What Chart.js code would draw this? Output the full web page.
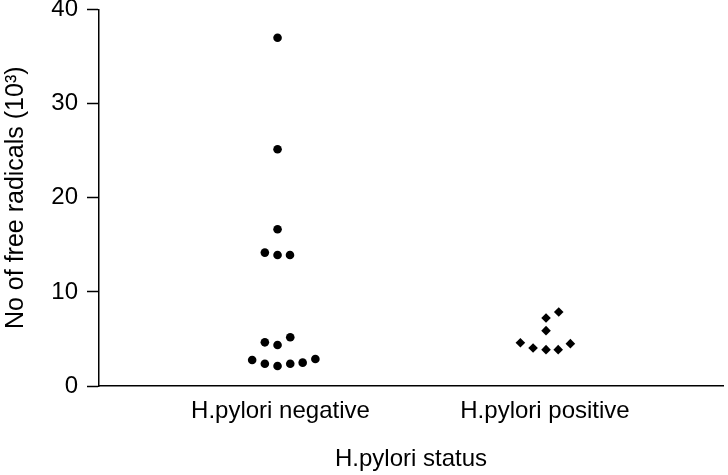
<!DOCTYPE html>
<html>
<head>
<meta charset="utf-8">
<script src="https://cdn.jsdelivr.net/npm/chart.js@4"></script>
<style>
  html, body { margin: 0; padding: 0; background: #fff; }
  #wrap { width: 728px; height: 475px; }
</style>
</head>
<body>
<div id="wrap"><canvas id="c" width="728" height="475"></canvas></div>
<script>
// values (y in 10^3 free radicals, x = group position + small spread)
const negX = [0.989, 0.989, 0.989, 0.941, 0.989, 1.036, 0.941, 0.989, 1.037, 0.893, 0.941, 0.989, 1.037, 1.084, 1.132];
const negY = [37.0, 25.15, 16.65, 14.17, 13.92, 13.92, 4.64, 4.36, 5.18, 2.76, 2.37, 2.13, 2.37, 2.48, 2.87];
const posX = [1.907, 1.955, 2.004, 2.050, 2.096, 2.004, 2.004, 2.052];
const posY = [4.60, 4.04, 3.86, 3.86, 4.50, 5.88, 7.23, 7.86];
const xTickPos = [1, 2];
const xTickLabels = ["H.pylori negative", "H.pylori positive"];
const yTicks = [0, 10, 20, 30, 40];

const font = { family: "'Liberation Sans', Arial, sans-serif", size: 24 };
const titleFont = { family: "'Liberation Sans', Arial, sans-serif", size: 25 };
const toPts = (xs, ys) => xs.map((x, i) => ({ x, y: ys[i] }));

new Chart(document.getElementById("c").getContext("2d"), {
  type: "scatter",
  data: {
    datasets: [
      { label: "negative", data: toPts(negX, negY), pointStyle: "circle", pointRadius: 4.3,
        backgroundColor: "#000", borderColor: "#000", borderWidth: 0 },
      { label: "positive", data: toPts(posX, posY), pointStyle: "rectRot", pointRadius: 4.8,
        backgroundColor: "#000", borderColor: "#000", borderWidth: 0 }
    ]
  },
  options: {
    responsive: false,
    animation: false,
    layout: { padding: { top: 9.5, right: 5, left: 0, bottom: 0 } },
    plugins: { legend: { display: false }, tooltip: { enabled: false } },
    scales: {
      x: {
        type: "linear", min: 0.314, max: 2.673,
        afterBuildTicks: s => { s.ticks = xTickPos.map(v => ({ value: v })); },
        afterFit: s => { s.height = 89; s.paddingLeft = 0; s.paddingRight = 0; },
        ticks: { color: "#000", font, padding: 11, maxRotation: 0, autoSkip: false,
          callback: (v) => xTickLabels[xTickPos.indexOf(v)] },
        grid: { display: false, drawTicks: false },
        border: { display: true, color: "#000", width: 1.5 },
        title: { display: true, text: "H.pylori status", color: "#000", font, padding: { top: 0, bottom: 1 } }
      },
      y: {
        min: 0, max: 40,
        afterBuildTicks: s => { s.ticks = yTicks.map(v => ({ value: v })); },
        afterFit: s => { s.width = 99; s.paddingTop = 0; s.paddingBottom = 0; },
        ticks: { color: "#000", font, padding: 9 },
        grid: { drawOnChartArea: false, drawTicks: true, tickLength: 12, tickWidth: 1.5, tickColor: "#000" },
        border: { display: true, color: "#000", width: 1.5 },
        title: { display: true, text: "No of free radicals (10³)", color: "#000", font: titleFont, padding: { top: 1, bottom: 0 } }
      }
    }
  }
});
</script>
</body>
</html>
